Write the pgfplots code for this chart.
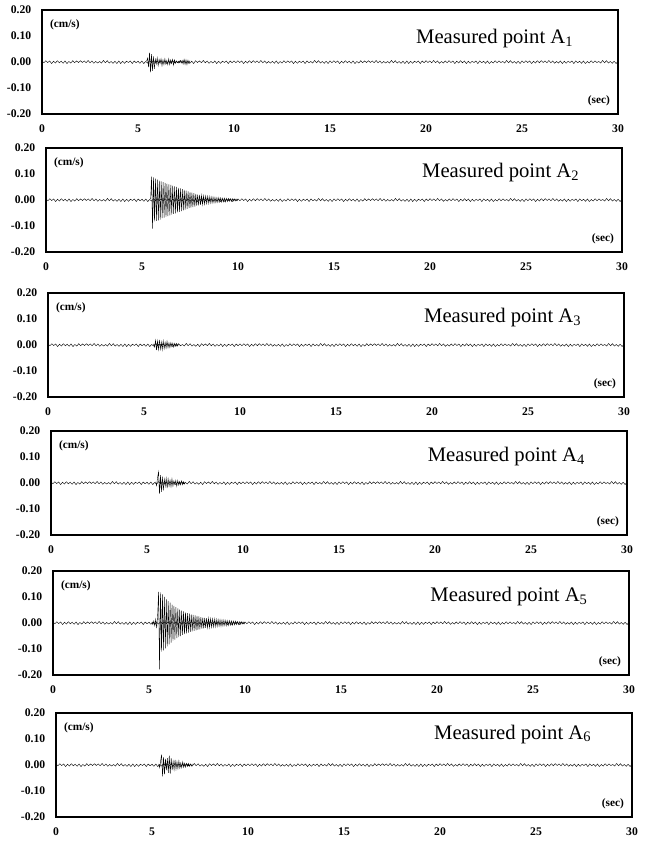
\documentclass[border=0pt]{standalone}
\usepackage{fontspec}
\setmainfont{Liberation Serif}
\usepackage{pgfplots}
\usepackage{pgfplotstable}
\pgfplotsset{compat=1.18}

% background noise, shared by all records
\pgfplotstableread[row sep=\\]{
t v\\
0.0 0.004\\ 0.1 -0.003\\ 0.2 0.005\\ 0.3 -0.002\\ 0.4 0.004\\ 0.5 -0.006\\ 0.6 0.003\\ 0.7 -0.004\\ 0.8 0.005\\ 0.9 -0.003\\
1.0 0.003\\ 1.1 -0.005\\ 1.2 0.004\\ 1.3 -0.006\\ 1.4 0.002\\ 1.5 -0.004\\ 1.6 0.005\\ 1.7 -0.003\\ 1.8 0.004\\ 1.9 -0.002\\
2.0 0.005\\ 2.1 -0.002\\ 2.2 0.004\\ 2.3 -0.003\\ 2.4 0.006\\ 2.5 -0.003\\ 2.6 0.004\\ 2.7 -0.005\\ 2.8 0.002\\ 2.9 -0.004\\
3.0 0.002\\ 3.1 -0.004\\ 3.2 0.006\\ 3.3 -0.003\\ 3.4 0.005\\ 3.5 -0.004\\ 3.6 0.002\\ 3.7 -0.005\\ 3.8 0.003\\ 3.9 -0.006\\
4.0 0.004\\ 4.1 -0.006\\ 4.2 0.003\\ 4.3 -0.005\\ 4.4 0.003\\ 4.5 -0.002\\ 4.6 0.004\\ 4.7 -0.006\\ 4.8 0.004\\ 4.9 -0.003\\
5.0 0.003\\ 5.1 -0.005\\ 5.2 0.004\\ 5.3 -0.006\\ 5.4 0.002\\ 5.5 -0.004\\ 5.6 0.005\\ 5.7 -0.003\\ 5.8 0.004\\ 5.9 -0.002\\
6.0 0.004\\ 6.1 -0.003\\ 6.2 0.005\\ 6.3 -0.002\\ 6.4 0.004\\ 6.5 -0.006\\ 6.6 0.003\\ 6.7 -0.004\\ 6.8 0.005\\ 6.9 -0.003\\
7.0 0.002\\ 7.1 -0.004\\ 7.2 0.006\\ 7.3 -0.003\\ 7.4 0.005\\ 7.5 -0.004\\ 7.6 0.002\\ 7.7 -0.005\\ 7.8 0.003\\ 7.9 -0.006\\
8.0 0.005\\ 8.1 -0.002\\ 8.2 0.004\\ 8.3 -0.003\\ 8.4 0.006\\ 8.5 -0.003\\ 8.6 0.004\\ 8.7 -0.005\\ 8.8 0.002\\ 8.9 -0.004\\
9.0 0.004\\ 9.1 -0.006\\ 9.2 0.003\\ 9.3 -0.005\\ 9.4 0.003\\ 9.5 -0.002\\ 9.6 0.004\\ 9.7 -0.006\\ 9.8 0.004\\ 9.9 -0.003\\
10.0 0.004\\ 10.1 -0.003\\ 10.2 0.005\\ 10.3 -0.002\\ 10.4 0.004\\ 10.5 -0.006\\ 10.6 0.003\\ 10.7 -0.004\\ 10.8 0.005\\ 10.9 -0.003\\
11.0 0.005\\ 11.1 -0.002\\ 11.2 0.004\\ 11.3 -0.003\\ 11.4 0.006\\ 11.5 -0.003\\ 11.6 0.004\\ 11.7 -0.005\\ 11.8 0.002\\ 11.9 -0.004\\
12.0 0.003\\ 12.1 -0.005\\ 12.2 0.004\\ 12.3 -0.006\\ 12.4 0.002\\ 12.5 -0.004\\ 12.6 0.005\\ 12.7 -0.003\\ 12.8 0.004\\ 12.9 -0.002\\
13.0 0.004\\ 13.1 -0.006\\ 13.2 0.003\\ 13.3 -0.005\\ 13.4 0.003\\ 13.5 -0.002\\ 13.6 0.004\\ 13.7 -0.006\\ 13.8 0.004\\ 13.9 -0.003\\
14.0 0.002\\ 14.1 -0.004\\ 14.2 0.006\\ 14.3 -0.003\\ 14.4 0.005\\ 14.5 -0.004\\ 14.6 0.002\\ 14.7 -0.005\\ 14.8 0.003\\ 14.9 -0.006\\
15.0 0.004\\ 15.1 -0.003\\ 15.2 0.005\\ 15.3 -0.002\\ 15.4 0.004\\ 15.5 -0.006\\ 15.6 0.003\\ 15.7 -0.004\\ 15.8 0.005\\ 15.9 -0.003\\
16.0 0.003\\ 16.1 -0.005\\ 16.2 0.004\\ 16.3 -0.006\\ 16.4 0.002\\ 16.5 -0.004\\ 16.6 0.005\\ 16.7 -0.003\\ 16.8 0.004\\ 16.9 -0.002\\
17.0 0.005\\ 17.1 -0.002\\ 17.2 0.004\\ 17.3 -0.003\\ 17.4 0.006\\ 17.5 -0.003\\ 17.6 0.004\\ 17.7 -0.005\\ 17.8 0.002\\ 17.9 -0.004\\
18.0 0.002\\ 18.1 -0.004\\ 18.2 0.006\\ 18.3 -0.003\\ 18.4 0.005\\ 18.5 -0.004\\ 18.6 0.002\\ 18.7 -0.005\\ 18.8 0.003\\ 18.9 -0.006\\
19.0 0.004\\ 19.1 -0.006\\ 19.2 0.003\\ 19.3 -0.005\\ 19.4 0.003\\ 19.5 -0.002\\ 19.6 0.004\\ 19.7 -0.006\\ 19.8 0.004\\ 19.9 -0.003\\
20.0 0.005\\ 20.1 -0.002\\ 20.2 0.004\\ 20.3 -0.003\\ 20.4 0.006\\ 20.5 -0.003\\ 20.6 0.004\\ 20.7 -0.005\\ 20.8 0.002\\ 20.9 -0.004\\
21.0 0.004\\ 21.1 -0.003\\ 21.2 0.005\\ 21.3 -0.002\\ 21.4 0.004\\ 21.5 -0.006\\ 21.6 0.003\\ 21.7 -0.004\\ 21.8 0.005\\ 21.9 -0.003\\
22.0 0.004\\ 22.1 -0.006\\ 22.2 0.003\\ 22.3 -0.005\\ 22.4 0.003\\ 22.5 -0.002\\ 22.6 0.004\\ 22.7 -0.006\\ 22.8 0.004\\ 22.9 -0.003\\
23.0 0.003\\ 23.1 -0.005\\ 23.2 0.004\\ 23.3 -0.006\\ 23.4 0.002\\ 23.5 -0.004\\ 23.6 0.005\\ 23.7 -0.003\\ 23.8 0.004\\ 23.9 -0.002\\
24.0 0.002\\ 24.1 -0.004\\ 24.2 0.006\\ 24.3 -0.003\\ 24.4 0.005\\ 24.5 -0.004\\ 24.6 0.002\\ 24.7 -0.005\\ 24.8 0.003\\ 24.9 -0.006\\
25.0 0.004\\ 25.1 -0.003\\ 25.2 0.005\\ 25.3 -0.002\\ 25.4 0.004\\ 25.5 -0.006\\ 25.6 0.003\\ 25.7 -0.004\\ 25.8 0.005\\ 25.9 -0.003\\
26.0 0.005\\ 26.1 -0.002\\ 26.2 0.004\\ 26.3 -0.003\\ 26.4 0.006\\ 26.5 -0.003\\ 26.6 0.004\\ 26.7 -0.005\\ 26.8 0.002\\ 26.9 -0.004\\
27.0 0.004\\ 27.1 -0.006\\ 27.2 0.003\\ 27.3 -0.005\\ 27.4 0.003\\ 27.5 -0.002\\ 27.6 0.004\\ 27.7 -0.006\\ 27.8 0.004\\ 27.9 -0.003\\
28.0 0.003\\ 28.1 -0.005\\ 28.2 0.004\\ 28.3 -0.006\\ 28.4 0.002\\ 28.5 -0.004\\ 28.6 0.005\\ 28.7 -0.003\\ 28.8 0.004\\ 28.9 -0.002\\
29.0 0.002\\ 29.1 -0.004\\ 29.2 0.006\\ 29.3 -0.003\\ 29.4 0.005\\ 29.5 -0.004\\ 29.6 0.002\\ 29.7 -0.005\\ 29.8 0.003\\ 29.9 -0.006\\
30.0 0.003\\
}\noise

% A1
\pgfplotstableread[row sep=\\]{
t v\\
5.45 0.004\\ 5.50 0.015\\ 5.55 -0.020\\ 5.60 0.036\\ 5.65 -0.040\\ 5.70 0.030\\ 5.75 -0.034\\ 5.80 0.022\\ 5.85 -0.026\\
5.90 0.010\\ 5.95 -0.008\\ 6.00 0.016\\ 6.05 -0.014\\ 6.10 0.010\\ 6.15 -0.006\\ 6.20 0.012\\ 6.25 -0.014\\ 6.30 0.008\\
6.35 -0.010\\ 6.40 0.012\\ 6.45 -0.008\\ 6.50 0.006\\ 6.55 -0.010\\ 6.60 0.012\\ 6.65 -0.010\\ 6.70 0.008\\ 6.75 -0.006\\
6.80 0.010\\ 6.85 -0.012\\ 6.90 0.008\\ 6.95 -0.005\\ 7.00 0.004\\ 7.05 -0.003\\ 7.10 0.003\\ 7.15 -0.003\\ 7.20 0.004\\
7.25 -0.004\\ 7.30 0.006\\ 7.35 -0.008\\ 7.40 0.010\\ 7.45 -0.009\\ 7.50 0.008\\ 7.55 -0.010\\ 7.60 0.007\\ 7.65 -0.006\\
7.70 0.005\\
}\burstA

% A2
\pgfplotstableread[row sep=\\]{
t v\\
5.45 0.004\\ 5.50 0.090\\ 5.55 -0.110\\ 5.60 0.088\\ 5.65 -0.082\\ 5.70 0.082\\ 5.75 -0.080\\ 5.80 0.078\\ 5.85 -0.078\\
5.90 0.074\\ 5.95 -0.075\\ 6.00 0.072\\ 6.05 -0.070\\ 6.10 0.069\\ 6.15 -0.068\\ 6.20 0.066\\ 6.25 -0.065\\ 6.30 0.063\\
6.35 -0.062\\ 6.40 0.060\\ 6.45 -0.059\\ 6.50 0.058\\ 6.55 -0.056\\ 6.60 0.055\\ 6.65 -0.053\\ 6.70 0.052\\ 6.75 -0.051\\
6.80 0.050\\ 6.85 -0.048\\ 6.90 0.047\\ 6.95 -0.046\\ 7.00 0.045\\ 7.05 -0.043\\ 7.10 0.042\\ 7.15 -0.040\\ 7.20 0.039\\
7.25 -0.037\\ 7.30 0.036\\ 7.35 -0.034\\ 7.40 0.033\\ 7.45 -0.031\\ 7.50 0.030\\ 7.55 -0.029\\ 7.60 0.028\\ 7.65 -0.027\\
7.70 0.026\\ 7.75 -0.025\\ 7.80 0.023\\ 7.85 -0.022\\ 7.90 0.021\\ 7.95 -0.021\\ 8.00 0.020\\ 8.05 -0.019\\ 8.10 0.018\\
8.15 -0.017\\ 8.20 0.016\\ 8.25 -0.016\\ 8.30 0.015\\ 8.35 -0.014\\ 8.40 0.014\\ 8.45 -0.013\\ 8.50 0.013\\ 8.55 -0.012\\
8.60 0.012\\ 8.65 -0.011\\ 8.70 0.011\\ 8.75 -0.010\\ 8.80 0.010\\ 8.85 -0.010\\ 8.90 0.009\\ 8.95 -0.009\\ 9.00 0.009\\
9.05 -0.008\\ 9.10 0.008\\ 9.15 -0.008\\ 9.20 0.007\\ 9.25 -0.007\\ 9.30 0.007\\ 9.35 -0.007\\ 9.40 0.006\\ 9.45 -0.006\\
9.50 0.006\\ 9.55 -0.005\\ 9.60 0.005\\ 9.65 -0.005\\ 9.70 0.005\\ 9.75 -0.004\\ 9.80 0.004\\ 9.85 -0.004\\ 9.90 0.004\\
9.95 -0.003\\ 10.00 0.003\\
}\burstB

% A3
\pgfplotstableread[row sep=\\]{
t v\\
5.50 0.004\\ 5.55 -0.008\\ 5.60 0.018\\ 5.65 -0.020\\ 5.70 0.016\\ 5.75 -0.018\\ 5.80 0.020\\ 5.85 -0.016\\ 5.90 0.012\\
5.95 -0.018\\ 6.00 0.016\\ 6.05 -0.014\\ 6.10 0.010\\ 6.15 -0.012\\ 6.20 0.014\\ 6.25 -0.010\\ 6.30 0.008\\ 6.35 -0.010\\
6.40 0.009\\ 6.45 -0.006\\ 6.50 0.007\\ 6.55 -0.008\\ 6.60 0.006\\ 6.65 -0.005\\ 6.70 0.006\\ 6.75 -0.004\\ 6.80 0.004\\
}\burstC

% A4
\pgfplotstableread[row sep=\\]{
t v\\
5.45 0.004\\ 5.50 -0.010\\ 5.55 0.020\\ 5.60 0.043\\ 5.65 -0.042\\ 5.70 0.030\\ 5.75 -0.034\\ 5.80 0.024\\ 5.85 -0.028\\
5.90 0.014\\ 5.95 -0.012\\ 6.00 0.018\\ 6.05 -0.020\\ 6.10 0.016\\ 6.15 -0.012\\ 6.20 0.010\\ 6.25 -0.014\\ 6.30 0.016\\
6.35 -0.012\\ 6.40 0.008\\ 6.45 -0.006\\ 6.50 0.010\\ 6.55 -0.012\\ 6.60 0.010\\ 6.65 -0.008\\ 6.70 0.006\\ 6.75 -0.007\\
6.80 0.008\\ 6.85 -0.006\\ 6.90 0.005\\ 6.95 -0.004\\ 7.00 0.004\\
}\burstD

% A5
\pgfplotstableread[row sep=\\]{
t v\\
5.15 0.004\\ 5.20 -0.006\\ 5.25 0.008\\ 5.30 -0.010\\ 5.35 0.014\\ 5.40 -0.020\\ 5.45 0.030\\ 5.50 0.120\\ 5.55 -0.178\\
5.60 0.118\\ 5.65 -0.110\\ 5.70 0.110\\ 5.75 -0.105\\ 5.80 0.100\\ 5.85 -0.098\\ 5.90 0.092\\ 5.95 -0.090\\ 6.00 0.084\\
6.05 -0.082\\ 6.10 0.078\\ 6.15 -0.075\\ 6.20 0.071\\ 6.25 -0.068\\ 6.30 0.066\\ 6.35 -0.064\\ 6.40 0.061\\ 6.45 -0.058\\
6.50 0.056\\ 6.55 -0.054\\ 6.60 0.052\\ 6.65 -0.050\\ 6.70 0.048\\ 6.75 -0.046\\ 6.80 0.045\\ 6.85 -0.043\\ 6.90 0.041\\
6.95 -0.040\\ 7.00 0.038\\ 7.05 -0.037\\ 7.10 0.036\\ 7.15 -0.034\\ 7.20 0.033\\ 7.25 -0.032\\ 7.30 0.031\\ 7.35 -0.030\\
7.40 0.029\\ 7.45 -0.028\\ 7.50 0.027\\ 7.55 -0.026\\ 7.60 0.025\\ 7.65 -0.024\\ 7.70 0.023\\ 7.75 -0.022\\ 7.80 0.021\\
7.85 -0.021\\ 7.90 0.020\\ 7.95 -0.019\\ 8.00 0.019\\ 8.05 -0.018\\ 8.10 0.018\\ 8.15 -0.017\\ 8.20 0.017\\ 8.25 -0.016\\
8.30 0.016\\ 8.35 -0.015\\ 8.40 0.015\\ 8.45 -0.014\\ 8.50 0.014\\ 8.55 -0.013\\ 8.60 0.013\\ 8.65 -0.012\\ 8.70 0.012\\
8.75 -0.012\\ 8.80 0.011\\ 8.85 -0.011\\ 8.90 0.011\\ 8.95 -0.010\\ 9.00 0.010\\ 9.05 -0.010\\ 9.10 0.009\\ 9.15 -0.009\\
9.20 0.009\\ 9.25 -0.008\\ 9.30 0.008\\ 9.35 -0.008\\ 9.40 0.007\\ 9.45 -0.007\\ 9.50 0.007\\ 9.55 -0.006\\ 9.60 0.006\\
9.65 -0.006\\ 9.70 0.005\\ 9.75 -0.005\\ 9.80 0.005\\ 9.85 -0.004\\ 9.90 0.004\\ 9.95 -0.004\\ 10.00 0.003\\
}\burstE

% A6
\pgfplotstableread[row sep=\\]{
t v\\
5.35 0.004\\ 5.40 -0.010\\ 5.45 0.016\\ 5.50 0.040\\ 5.55 -0.044\\ 5.60 0.030\\ 5.65 -0.036\\ 5.70 0.024\\ 5.75 -0.020\\
5.80 0.026\\ 5.85 -0.030\\ 5.90 0.036\\ 5.95 -0.034\\ 6.00 0.026\\ 6.05 -0.020\\ 6.10 0.014\\ 6.15 -0.018\\ 6.20 0.020\\
6.25 -0.016\\ 6.30 0.012\\ 6.35 -0.014\\ 6.40 0.016\\ 6.45 -0.012\\ 6.50 0.008\\ 6.55 -0.010\\ 6.60 0.012\\ 6.65 -0.009\\
6.70 0.007\\ 6.75 -0.008\\ 6.80 0.006\\ 6.85 -0.005\\ 6.90 0.006\\ 6.95 -0.005\\ 7.00 0.004\\ 7.05 -0.004\\ 7.10 0.004\\
}\burstF

\pgfplotsset{
  seis/.style={
    scale only axis, width=432pt, height=78pt,
    anchor=south west,
    xmin=0, xmax=30, ymin=-0.2, ymax=0.2,
    xtick={0,5,...,30}, ytick={-0.2,-0.1,0,0.1,0.2},
    tick style={draw=none},
    axis line style={line width=1pt},
    /pgf/number format/assume math mode=true,
    ticklabel style={font=\fontsize{8.75}{10}\selectfont\bfseries},
    yticklabel style={/pgf/number format/fixed, /pgf/number format/fixed zerofill,
      /pgf/number format/precision=2, xshift=-4.5pt},
    xticklabel style={yshift=-4.5pt},
  },
  sig/.style={black, line width=0.3pt, mark=none},
}
\newcommand{\units}{%
  \node[anchor=north west, font=\fontsize{8.5}{10}\selectfont\bfseries, xshift=2.5pt, yshift=-3.5pt] at (rel axis cs:0,1) {(cm/s)};
  \node[anchor=south east, font=\fontsize{8.5}{10}\selectfont\bfseries, xshift=-2.5pt, yshift=2.5pt] at (rel axis cs:1,0) {(sec)};
}

\begin{document}
\begin{tikzpicture}
\path[use as bounding box] (0,0) rectangle (484.5pt,-630.75pt);

\begin{axis}[seis, at={(31.5pt,-85.5pt)}]
\addplot[sig] table {\noise};
\addplot[sig] table {\burstA};
\units
\node[anchor=base east, font=\fontsize{15.5}{18}\selectfont, xshift=-30pt, yshift=-25pt] at (rel axis cs:1,1) {Measured point A\textsubscript{1}};
\end{axis}

\begin{axis}[seis, at={(34.5pt,-189pt)}]
\addplot[sig] table {\noise};
\addplot[sig] table {\burstB};
\units
\node[anchor=base east, font=\fontsize{15.5}{18}\selectfont, xshift=-28.5pt, yshift=-22.5pt] at (rel axis cs:1,1) {Measured point A\textsubscript{2}};
\end{axis}

\begin{axis}[seis, at={(36pt,-297.75pt)}]
\addplot[sig] table {\noise};
\addplot[sig] table {\burstC};
\units
\node[anchor=base east, font=\fontsize{15.5}{18}\selectfont, xshift=-28.5pt, yshift=-22.5pt] at (rel axis cs:1,1) {Measured point A\textsubscript{3}};
\end{axis}

\begin{axis}[seis, at={(38.25pt,-401.25pt)}]
\addplot[sig] table {\noise};
\addplot[sig] table {\burstD};
\units
\node[anchor=base east, font=\fontsize{15.5}{18}\selectfont, xshift=-28pt, yshift=-23pt] at (rel axis cs:1,1) {Measured point A\textsubscript{4}};
\end{axis}

\begin{axis}[seis, at={(39.75pt,-506.25pt)}]
\addplot[sig] table {\noise};
\addplot[sig] table {\burstE};
\units
\node[anchor=base east, font=\fontsize{15.5}{18}\selectfont, xshift=-27.5pt, yshift=-23pt] at (rel axis cs:1,1) {Measured point A\textsubscript{5}};
\end{axis}

\begin{axis}[seis, at={(42pt,-612.75pt)}]
\addplot[sig] table {\noise};
\addplot[sig] table {\burstF};
\units
\node[anchor=base east, font=\fontsize{15.5}{18}\selectfont, xshift=-27pt, yshift=-19.5pt] at (rel axis cs:1,1) {Measured point A\textsubscript{6}};
\end{axis}
\end{tikzpicture}
\end{document}
